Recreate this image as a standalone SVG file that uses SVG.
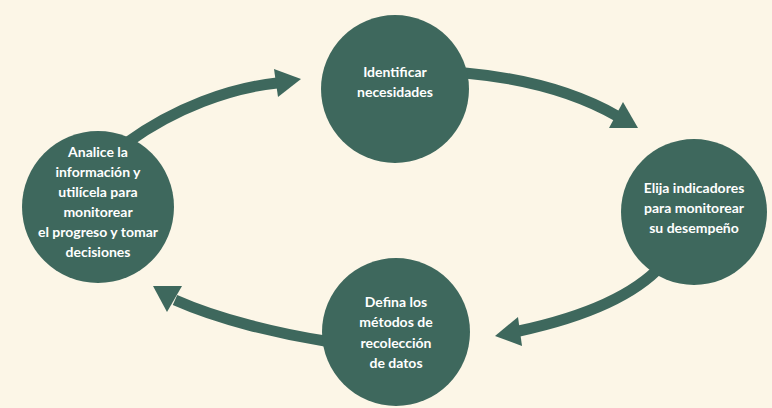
<svg xmlns="http://www.w3.org/2000/svg" width="772" height="408" viewBox="0 0 772 408">
<style>
.n{fill:#3e685d}
.t{font-family:Lato,"Open Sans","Liberation Sans",sans-serif;font-weight:bold;font-size:14px;fill:#ffffff;text-anchor:middle}
.c{fill:none;stroke:#3e685d;stroke-width:11}
.h{fill:#3e685d}
</style>
<rect width="772" height="408" fill="#fcf6e7"/>
<g id="connectors">
<path class="c" d="M128,142 C175,108 230,88 277,83"/>
<polygon class="h" points="274,69 301,79 278,97"/>
<path class="c" d="M465,73 C520,78 575,92 617,116"/>
<polygon class="h" points="623,102 638,128 609,128"/>
<path class="c" d="M662,265 C630,300 570,320 519,331"/>
<polygon class="h" points="518,317 495,336 522,346"/>
<path class="c" d="M325,341 C280,334 220,320 175,300"/>
<polygon class="h" points="153,286 182,286 167,312"/>
</g>
<g id="node-identificar">
<circle class="n" cx="395" cy="89" r="74"/>
<text class="t" x="395" y="77">Identificar</text>
<text class="t" x="395" y="97">necesidades</text>
</g>
<g id="node-elija">
<circle class="n" cx="694" cy="212" r="73"/>
<text class="t" x="694" y="193">Elija indicadores</text>
<text class="t" x="694" y="213">para monitorear</text>
<text class="t" x="694" y="233">su desempeño</text>
</g>
<g id="node-defina">
<circle class="n" cx="396" cy="332" r="74"/>
<text class="t" x="396" y="307">Defina los</text>
<text class="t" x="396" y="327">métodos de</text>
<text class="t" x="396" y="348">recolección</text>
<text class="t" x="396" y="368">de datos</text>
</g>
<g id="node-analice">
<circle class="n" cx="98" cy="207" r="76"/>
<text class="t" x="98" y="157">Analice la</text>
<text class="t" x="98" y="177">información y</text>
<text class="t" x="98" y="197">utilícela para</text>
<text class="t" x="98" y="217">monitorear</text>
<text class="t" x="98" y="237">el progreso y tomar</text>
<text class="t" x="98" y="257">decisiones</text>
</g>
</svg>
